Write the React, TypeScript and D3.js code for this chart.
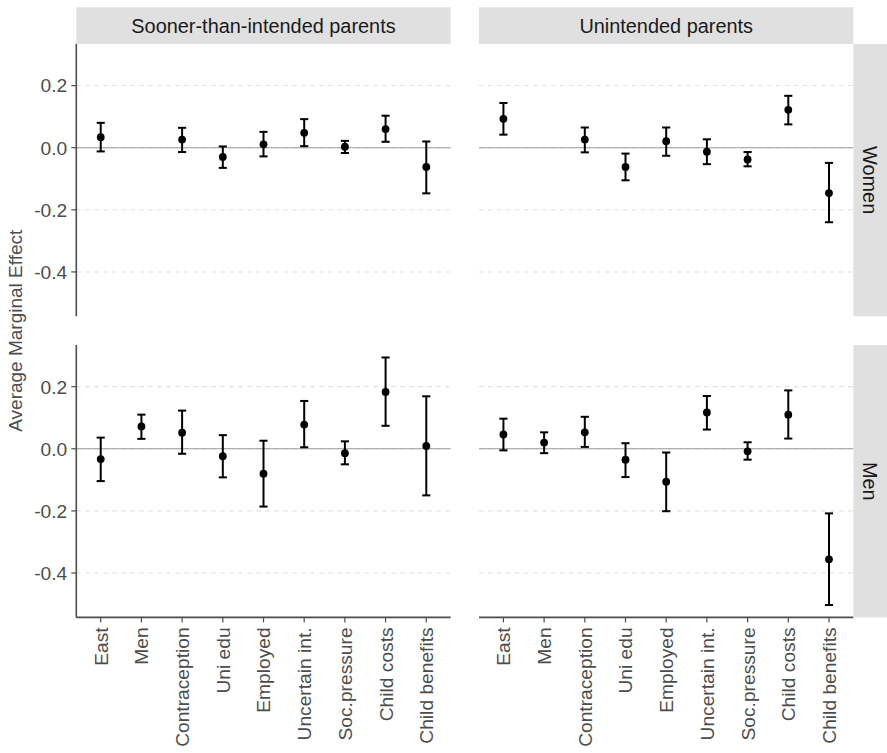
import React from "react";
import * as d3 from "d3";

// Predictors shown on the x axis
const categories = [
  "East",
  "Men",
  "Contraception",
  "Uni edu",
  "Employed",
  "Uncertain int.",
  "Soc.pressure",
  "Child costs",
  "Child benefits",
];

// Column facets and row facets
const groups = ["Sooner-than-intended parents", "Unintended parents"];
const sexes = ["Women", "Men"];

// Average marginal effects with 95% interval bounds (null = not estimated)
const soonerWomenEst = [0.034, null, 0.026, -0.030, 0.011, 0.048, 0.003, 0.060, -0.062];
const soonerWomenLo = [-0.012, null, -0.014, -0.065, -0.028, 0.005, -0.017, 0.019, -0.147];
const soonerWomenHi = [0.080, null, 0.064, 0.004, 0.051, 0.092, 0.022, 0.103, 0.020];

const unintWomenEst = [0.093, null, 0.026, -0.062, 0.021, -0.013, -0.038, 0.122, -0.146];
const unintWomenLo = [0.042, null, -0.015, -0.105, -0.026, -0.053, -0.060, 0.075, -0.240];
const unintWomenHi = [0.144, null, 0.065, -0.019, 0.065, 0.027, -0.014, 0.167, -0.049];

const soonerMenEst = [-0.033, 0.072, 0.052, -0.024, -0.080, 0.078, -0.014, 0.183, 0.009];
const soonerMenLo = [-0.104, 0.032, -0.016, -0.092, -0.186, 0.005, -0.050, 0.074, -0.150];
const soonerMenHi = [0.036, 0.110, 0.123, 0.044, 0.026, 0.154, 0.024, 0.294, 0.169];

const unintMenEst = [0.046, 0.020, 0.053, -0.035, -0.106, 0.117, -0.008, 0.110, -0.356];
const unintMenLo = [-0.005, -0.014, 0.006, -0.091, -0.201, 0.062, -0.035, 0.033, -0.503];
const unintMenHi = [0.097, 0.053, 0.103, 0.018, -0.012, 0.170, 0.021, 0.188, -0.208];

const yTicks = [0.2, 0.0, -0.2, -0.4];

type Row = { cat: string; est: number; lo: number; hi: number };

function rows(est: (number | null)[], lo: (number | null)[], hi: (number | null)[]): Row[] {
  const out: Row[] = [];
  categories.forEach((c, i) => {
    if (est[i] != null) out.push({ cat: c, est: est[i] as number, lo: lo[i] as number, hi: hi[i] as number });
  });
  return out;
}

// panels[rowIndex][colIndex]
const panels: Row[][][] = [
  [rows(soonerWomenEst, soonerWomenLo, soonerWomenHi), rows(unintWomenEst, unintWomenLo, unintWomenHi)],
  [rows(soonerMenEst, soonerMenLo, soonerMenHi), rows(unintMenEst, unintMenLo, unintMenHi)],
];

const W = 887;
const H = 753;
const plotLeft = 76.3;
const panelW = 374.4;
const hGap = 28.3;
const plotTop = 44;
const panelH = 272.3;
const vGap = 28.8;
const stripTopH = 36.7;
const stripRightW = 34.5;

const FONT = "'Liberation Sans', Arial, Helvetica, sans-serif";
const axisGray = "#4d4d4d";
const tickSize = 19.2;

export default function App() {
  const all = panels.flat(2);
  const lo = d3.min(all, (d) => d.lo) as number;
  const hi = d3.max(all, (d) => d.hi) as number;
  const pad = (hi - lo) * 0.05;

  const y = d3.scaleLinear().domain([lo - pad, hi + pad]).range([panelH, 0]);
  const x = d3.scalePoint<string>().domain(categories).range([0, panelW]).padding(0.6);
  const step = x.step();
  const capHalf = step * 0.1;

  const bottomY = plotTop + 2 * panelH + vGap;

  return (
    <div style={{ position: "absolute", left: 0, top: 0 }}>
      <svg width={W} height={H} style={{ display: "block", background: "#ffffff" }} fontFamily={FONT}>
        {sexes.map((sex, ri) => {
          const py = plotTop + ri * (panelH + vGap);
          return (
            <g key={sex}>
              {groups.map((grp, ci) => {
                const px = plotLeft + ci * (panelW + hGap);
                const data = panels[ri][ci];
                return (
                  <g key={grp} transform={`translate(${px},${py})`}>
                    {/* dashed major gridlines */}
                    {yTicks.map((t) => (
                      <line
                        key={t}
                        x1={0}
                        x2={panelW}
                        y1={y(t)}
                        y2={y(t)}
                        stroke="#e2e2e2"
                        strokeWidth={1.1}
                        strokeDasharray="4.5,4.5"
                      />
                    ))}
                    {/* reference line at zero */}
                    <line x1={0} x2={panelW} y1={y(0)} y2={y(0)} stroke="#9a9a9a" strokeWidth={1.1} />
                    {/* error bars and point estimates */}
                    {data.map((d) => {
                      const cx = x(d.cat) as number;
                      return (
                        <g key={d.cat}>
                          <line x1={cx} x2={cx} y1={y(d.hi)} y2={y(d.lo)} stroke="#000" strokeWidth={2} />
                          <line x1={cx - capHalf} x2={cx + capHalf} y1={y(d.hi)} y2={y(d.hi)} stroke="#000" strokeWidth={2} />
                          <line x1={cx - capHalf} x2={cx + capHalf} y1={y(d.lo)} y2={y(d.lo)} stroke="#000" strokeWidth={2} />
                          <circle cx={cx} cy={y(d.est)} r={3.9} fill="#000" />
                        </g>
                      );
                    })}
                    {/* left axis on the first column */}
                    {ci === 0 && (
                      <g>
                        <line x1={0} x2={0} y1={0} y2={panelH} stroke={axisGray} strokeWidth={1.6} />
                        {yTicks.map((t) => (
                          <g key={t}>
                            <line x1={-5} x2={0} y1={y(t)} y2={y(t)} stroke={axisGray} strokeWidth={1.2} />
                            <text
                              x={-9}
                              y={y(t)}
                              dy="0.36em"
                              textAnchor="end"
                              fontSize={tickSize}
                              fill={axisGray}
                            >
                              {d3.format(".1f")(t).replace("−", "-")}
                            </text>
                          </g>
                        ))}
                      </g>
                    )}
                    {/* bottom axis on the last row */}
                    {ri === sexes.length - 1 && (
                      <g>
                        <line x1={0} x2={panelW} y1={panelH} y2={panelH} stroke={axisGray} strokeWidth={1.6} />
                        {categories.map((c) => {
                          const cx = x(c) as number;
                          return (
                            <g key={c}>
                              <line x1={cx} x2={cx} y1={panelH} y2={panelH + 5} stroke={axisGray} strokeWidth={1.2} />
                              <text
                                transform={`translate(${cx},${panelH + 10}) rotate(-90)`}
                                dy="0.36em"
                                textAnchor="end"
                                fontSize={tickSize}
                                fill={axisGray}
                              >
                                {c}
                              </text>
                            </g>
                          );
                        })}
                      </g>
                    )}
                    {/* column strip */}
                    {ri === 0 && (
                      <g>
                        <rect x={0} y={-stripTopH} width={panelW} height={stripTopH} fill="#e0e0e0" />
                        <text
                          x={panelW / 2}
                          y={-stripTopH / 2}
                          dy="0.36em"
                          textAnchor="middle"
                          fontSize={19.9}
                          fill="#1a1a1a"
                        >
                          {grp}
                        </text>
                      </g>
                    )}
                    {/* row strip */}
                    {ci === groups.length - 1 && (
                      <g>
                        <rect x={panelW} y={0} width={stripRightW} height={panelH} fill="#e0e0e0" />
                        <text
                          transform={`translate(${panelW + stripRightW / 2},${panelH / 2}) rotate(90)`}
                          dy="0.36em"
                          textAnchor="middle"
                          fontSize={19.9}
                          fill="#1a1a1a"
                        >
                          {sex}
                        </text>
                      </g>
                    )}
                  </g>
                );
              })}
            </g>
          );
        })}
        {/* y axis title */}
        <text
          transform={`translate(15,${(plotTop + bottomY) / 2}) rotate(-90)`}
          dy="0.36em"
          textAnchor="middle"
          fontSize={19}
          fill={axisGray}
        >
          Average Marginal Effect
        </text>
      </svg>
    </div>
  );
}
